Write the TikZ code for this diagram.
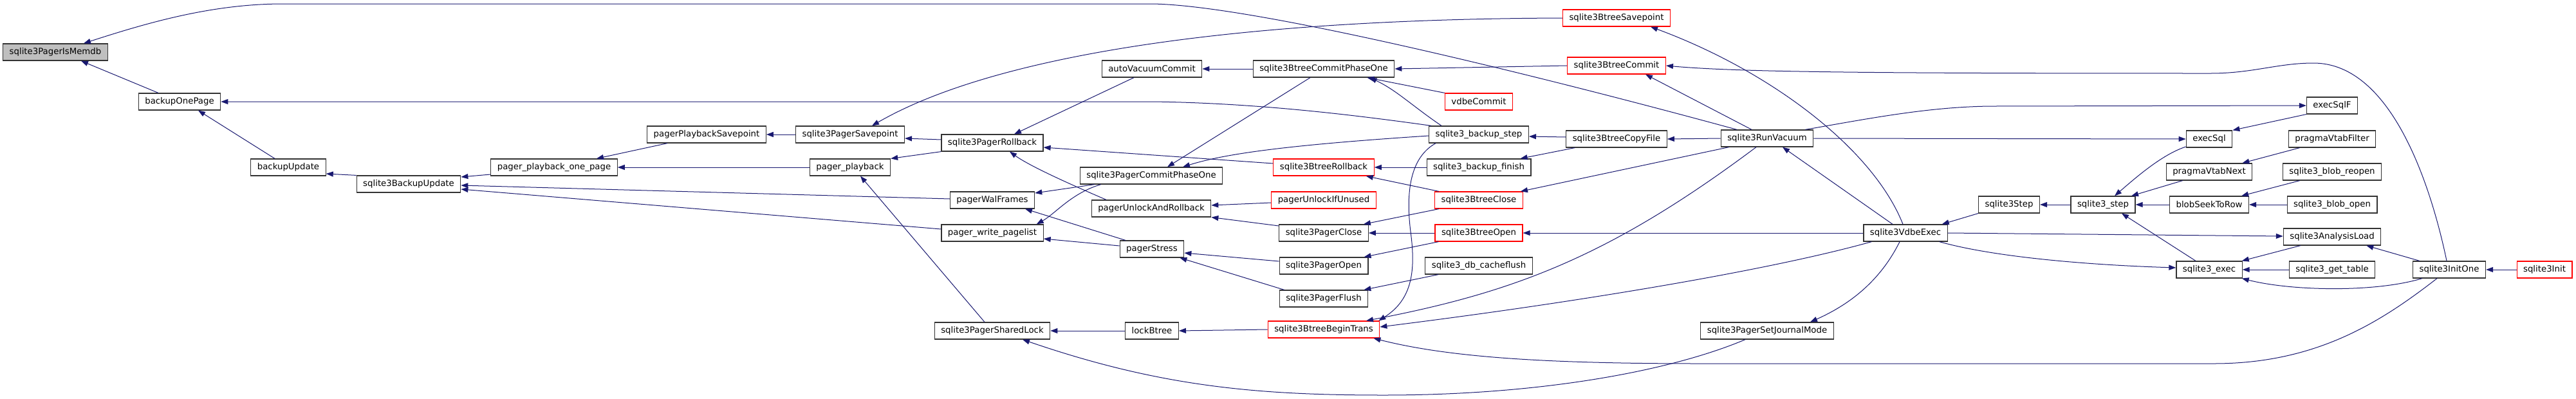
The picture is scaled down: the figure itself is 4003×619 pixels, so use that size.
\documentclass[tikz,border=0pt]{standalone}
\usepackage{fontspec}
\setmainfont{DejaVu Sans}
\usetikzlibrary{arrows.meta}
\definecolor{edgeblue}{HTML}{191970}

\begin{document}
\begin{tikzpicture}[x=1pt, y=-1pt, >={Triangle[length=11pt,width=8pt]},
    fn/.style={draw=black!80, line width=1.2pt, fill=white, minimum height=26pt,
      inner xsep=10pt, inner ysep=0pt, font=\fontsize{13.3}{16}\selectfont},
    fnred/.style={fn, draw=red},
    fnself/.style={fn, fill=black!25},
    call/.style={draw=edgeblue, line width=1pt}]
    \useasboundingbox (0,0) rectangle (4003,619);

    \node[fnself] (memdb) at (86,81) {sqlite3PagerIsMemdb};
    \node[fn] (onepage) at (279,158) {backupOnePage};
    \node[fn] (bupdate) at (448,260) {backupUpdate};
    \node[fn] (sbupdate) at (635,286) {sqlite3BackupUpdate};
    \node[fn] (pbsave) at (1098,209) {pagerPlaybackSavepoint};
    \node[fn] (pbone) at (861,260) {pager\_playback\_one\_page};
    \node[fn] (psave) at (1321,209) {sqlite3PagerSavepoint};
    \node[fn] (pplay) at (1321,260) {pager\_playback};
    \node[fn] (avc) at (1790,107) {autoVacuumCommit};
    \node[fn] (proll) at (1542,222) {sqlite3PagerRollback};
    \node[fn] (pcp1) at (1789,273) {sqlite3PagerCommitPhaseOne};
    \node[fn] (walf) at (1542,311) {pagerWalFrames};
    \node[fn] (uar) at (1789,324) {pagerUnlockAndRollback};
    \node[fn] (wpl) at (1542,362) {pager\_write\_pagelist};
    \node[fn] (stress) at (1790,387) {pagerStress};
    \node[fn] (slock) at (1542,514) {sqlite3PagerSharedLock};
    \node[fn] (lockbt) at (1790,514) {lockBtree};
    \node[fnred] (bsave) at (2512,28) {sqlite3BtreeSavepoint};
    \node[fn] (bcp1) at (2057,107) {sqlite3BtreeCommitPhaseOne};
    \node[fnred] (bcommit) at (2512,102) {sqlite3BtreeCommit};
    \node[fnred] (vcommit) at (2298,158) {vdbeCommit};
    \node[fn] (bkstep) at (2298,209) {sqlite3\_backup\_step};
    \node[fn] (copyf) at (2512,216) {sqlite3BtreeCopyFile};
    \node[fnred] (broll) at (2057,260) {sqlite3BtreeRollback};
    \node[fn] (bkfin) at (2298,260) {sqlite3\_backup\_finish};
    \node[fnred] (unlk) at (2057,311) {pagerUnlockIfUnused};
    \node[fnred] (bclose) at (2298,311) {sqlite3BtreeClose};
    \node[fn] (pclose) at (2057,362) {sqlite3PagerClose};
    \node[fnred] (bopen) at (2298,362) {sqlite3BtreeOpen};
    \node[fn] (popen) at (2057,413) {sqlite3PagerOpen};
    \node[fn] (cflush) at (2298,413) {sqlite3\_db\_cacheflush};
    \node[fn] (pflush) at (2057,464) {sqlite3PagerFlush};
    \node[fnred] (btrans) at (2057,512) {sqlite3BtreeBeginTrans};
    \node[fn] (vacuum) at (2746,215) {sqlite3RunVacuum};
    \node[fn] (vexec) at (2961,362) {sqlite3VdbeExec};
    \node[fn] (vstep) at (3122,318) {sqlite3Step};
    \node[fn] (step) at (3268,318) {sqlite3\_step};
    \node[fn] (jmode) at (2746,514) {sqlite3PagerSetJournalMode};
    \node[fn] (sqlf) at (3624,164) {execSqlF};
    \node[fn] (sql) at (3433,216) {execSql};
    \node[fn] (vfilt) at (3624,216) {pragmaVtabFilter};
    \node[fn] (vnext) at (3433,267) {pragmaVtabNext};
    \node[fn] (reopen) at (3624,267) {sqlite3\_blob\_reopen};
    \node[fn] (seek) at (3433,318) {blobSeekToRow};
    \node[fn] (blobopen) at (3624,318) {sqlite3\_blob\_open};
    \node[fn] (aload) at (3624,368) {sqlite3AnalysisLoad};
    \node[fn] (exec) at (3433,419) {sqlite3\_exec};
    \node[fn] (gettab) at (3624,419) {sqlite3\_get\_table};
    \node[fn] (initone) at (3806,419) {sqlite3InitOne};
    \node[fnred] (init) at (3954,419) {sqlite3Init};

    \draw[call,<-] ([xshift=40pt]memdb.south) -- ([xshift=-33pt]onepage.north);
    \draw[call,<-] ([xshift=44pt]memdb.north) .. controls (230,35) and (330,6) .. (440,6) -- (1790,6)
        .. controls (1950,8) and (2400,120) .. ([xshift=-47pt]vacuum.north);
    \draw[call,<-] ([xshift=29pt]onepage.south) -- ([xshift=-21pt]bupdate.north);
    \draw[call,<-] (onepage.east) -- (1790,158) .. controls (1950,160) and (2100,178) .. ([xshift=4pt]bkstep.north west);
    \draw[call,<-] ([yshift=-10pt]bupdate.east) -- (sbupdate.north west);
    \draw[call,<-] ([yshift=11pt]sbupdate.east) -- ([yshift=-11pt]pbone.west);
    \draw[call,<-] ([yshift=-2pt]sbupdate.east) -- ([yshift=2pt]walf.west);
    \draw[call,<-] ([yshift=-8pt]sbupdate.east) -- ([yshift=6pt]wpl.west);
    \draw[call,<-] ([xshift=66pt]pbone.north) -- ([xshift=-61pt]pbsave.south);
    \draw[call,<-] (pbone.east) -- (pplay.west);
    \draw[call,<-] (pbsave.east) -- (psave.west);
    \draw[call,<-] ([yshift=-6pt]psave.east) -- ([yshift=5pt]proll.west);
    \draw[call,<-] ([xshift=34pt]psave.north) .. controls (1520,100) and (1850,30) .. (bsave.west);
    \draw[call,<-] (pplay.north east) -- (proll.south west);
    \draw[call,<-] ([xshift=16pt]pplay.south) -- ([xshift=-12pt]slock.north);
    \draw[call,<-] ([xshift=34pt]proll.north) -- ([xshift=-28pt]avc.south);
    \draw[call,<-] (avc.east) -- (bcp1.west);
    \draw[call,<-] ([xshift=27pt]proll.south) .. controls (1600,258) and (1660,285) .. ([xshift=-70pt]uar.north);
    \draw[call,<-] ([yshift=-7pt]proll.east) -- ([yshift=6pt]broll.west);
    \draw[call,<-] ([xshift=25pt]pcp1.north) -- ([xshift=-21pt]bcp1.south);
    \draw[call,<-] ([xshift=49pt]pcp1.north) .. controls (1900,240) and (1990,226) .. ([yshift=-2pt]bkstep.west);
    \draw[call,<-] ([yshift=11pt]walf.east) -- ([xshift=23pt]pcp1.south west);
    \draw[call,<-] ([xshift=-11pt]wpl.north east) .. controls (1640,332) and (1665,300) .. ([xshift=33pt]pcp1.south west);
    \draw[call,<-] ([xshift=51pt]walf.south) -- ([xshift=-41pt]stress.north);
    \draw[call,<-] ([yshift=-9pt]wpl.east) -- ([yshift=5pt]stress.west);
    \draw[call,<-] ([yshift=5pt]uar.east) -- ([yshift=-4pt]unlk.west);
    \draw[call,<-] (uar.south east) -- ([yshift=11pt]pclose.west);
    \draw[call,<-] ([yshift=-6pt]stress.east) -- ([yshift=7pt]popen.west);
    \draw[call,<-] ([xshift=-7pt]stress.south east) -- ([xshift=8pt]pflush.north west);
    \draw[call,<-] (slock.east) -- (lockbt.west);
    \draw[call,<-] ([xshift=47pt]slock.south) .. controls (1800,600) and (1950,614) .. (2150,614)
        .. controls (2400,614) and (2600,575) .. ([xshift=-34pt]jmode.south);
    \draw[call,<-] (lockbt.east) -- (btrans.west);
    \draw[call,<-] ([xshift=53pt]bsave.south) .. controls (2750,110) and (2910,230) .. ([xshift=-4pt]vexec.north);
    \draw[call,<-] (bcp1.east) -- (bcommit.west);
    \draw[call,<-] ([xshift=45pt]bcommit.south) -- ([xshift=-24pt]vacuum.north);
    \draw[call,<-] (bcommit.east) .. controls (2700,112) and (2900,114) .. (3435,114)
        .. controls (3500,114) and (3540,98) .. (3595,98)
        .. controls (3720,98) and (3780,300) .. ([xshift=-4pt]initone.north);
    \draw[call,<-] ([xshift=-43pt]bcp1.south east) -- (vcommit.north west);
    \draw[call,<-] ([xshift=-39pt]bcp1.south east) .. controls (2170,140) and (2195,165) .. ([xshift=-58pt]bkstep.north);
    \draw[call,<-] ([yshift=-3pt]bkstep.east) -- ([yshift=3pt]copyf.west);
    \draw[call,<-] ([xshift=-17pt]bkfin.north east) -- ([xshift=14pt]copyf.south west);
    \draw[call,<-] (copyf.east) -- (vacuum.west);
    \draw[call,<-] (broll.east) -- (bkfin.west);
    \draw[call,<-] ([xshift=-13pt]broll.south east) -- ([xshift=7pt]bclose.north west);
    \draw[call,<-] ([xshift=-4pt]bclose.north east) -- ([xshift=13pt]vacuum.south west);
    \draw[call,<-] ([xshift=-8pt]pclose.north east) -- ([xshift=7pt]bclose.south west);
    \draw[call,<-] (pclose.east) -- (bopen.west);
    \draw[call,<-] ([xshift=-7pt]popen.north east) -- ([xshift=6pt]bopen.south west);
    \draw[call,<-] (bopen.east) -- (vexec.west);
    \draw[call,<-] ([xshift=-7pt]pflush.north east) -- ([xshift=21pt]cflush.south west);
    \draw[call,<-] ([xshift=-2pt]btrans.north east) .. controls (2195,465) and (2200,420) .. (2192,360)
        .. controls (2182,280) and (2200,240) .. ([xshift=11pt]bkstep.south west);
    \draw[call,<-] ([xshift=66pt]btrans.north) .. controls (2350,455) and (2500,400) .. ([xshift=-17pt]vacuum.south);
    \draw[call,<-] ([yshift=4pt]btrans.east) .. controls (2450,470) and (2750,420) .. ([xshift=13pt]vexec.south west);
    \draw[call,<-] ([xshift=-10pt]btrans.south east) .. controls (2250,555) and (2400,565) .. (2640,565) -- (3440,565)
        .. controls (3600,565) and (3700,500) .. ([xshift=-19pt]initone.south);
    \draw[call,<-] ([xshift=67pt]jmode.north) .. controls (2870,475) and (2920,440) .. ([xshift=-9pt]vexec.south);
    \draw[call,<-] ([xshift=24pt]vacuum.south) -- ([xshift=-20pt]vexec.north);
    \draw[call,->] ([xshift=-13pt]vacuum.north east) .. controls (2900,185) and (3000,165) .. (3100,165) -- (sqlf.west);
    \draw[call,->] (vacuum.east) -- (sql.west);
    \draw[call,<-] ([xshift=-9pt]vexec.north east) -- (vstep.south west);
    \draw[call,<-] (vstep.east) -- (step.west);
    \draw[call,->] (vexec.east) -- ([yshift=1pt]aload.west);
    \draw[call,->] ([xshift=-13pt]vexec.south east) .. controls (3100,400) and (3250,412) .. ([yshift=3pt]exec.west);
    \draw[call,<-] ([xshift=18pt]step.north) .. controls (3320,275) and (3360,240) .. ([yshift=-12pt]sql.west);
    \draw[call,<-] ([xshift=44pt]step.north) -- ([xshift=26pt]vnext.south west);
    \draw[call,<-] (step.east) -- (seek.west);
    \draw[call,<-] ([xshift=29pt]step.south) -- ([xshift=-21pt]exec.north);
    \draw[call,<-] (sql.north east) -- (sqlf.south west);
    \draw[call,<-] ([xshift=-16pt]vnext.north east) -- ([xshift=18pt]vfilt.south west);
    \draw[call,<-] ([xshift=-12pt]seek.north east) -- ([xshift=27pt]reopen.south west);
    \draw[call,<-] (seek.east) -- (blobopen.west);
    \draw[call,<-] ([xshift=-1pt]exec.north east) -- ([xshift=27pt]aload.south west);
    \draw[call,<-] (exec.east) -- (gettab.west);
    \draw[call,<-] ([xshift=-23pt]aload.south east) -- ([xshift=11pt]initone.north west);
    \draw[call,<-] ([xshift=-1pt]exec.south east) .. controls (3560,452) and (3690,455) .. ([xshift=15pt]initone.south west);
    \draw[call,<-] (initone.east) -- (init.west);
\end{tikzpicture}
\end{document}
